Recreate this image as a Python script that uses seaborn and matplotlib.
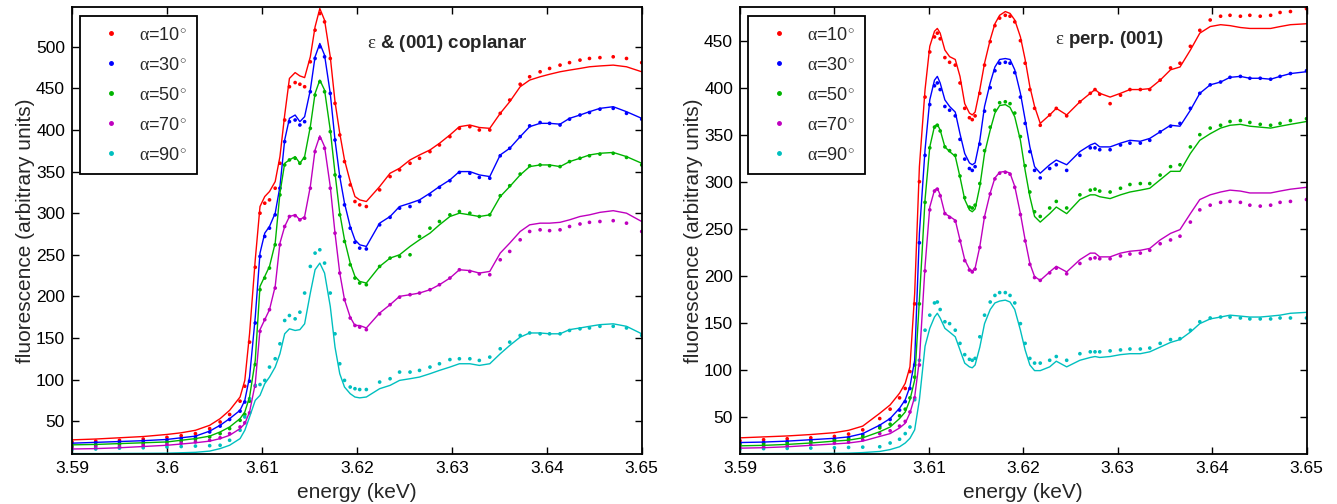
import numpy as np
import pandas as pd
import matplotlib
matplotlib.use('Agg')
import matplotlib.pyplot as plt
from matplotlib.lines import Line2D
import seaborn as sns

# ---------------- data ----------------
angles = ['10', '30', '50', '70', '90']
colors = ['#ff0000', '#0000ff', '#00b400', '#bf00bf', '#00bfbf']

xticks = [3.59, 3.60, 3.61, 3.62, 3.63, 3.64, 3.65]
xtick_labels = ['3.59', '3.6', '3.61', '3.62', '3.63', '3.64', '3.65']
yticks_coplanar = [50, 100, 150, 200, 250, 300, 350, 400, 450, 500]
yticks_perp = [50, 100, 150, 200, 250, 300, 350, 400, 450]

# ---- panel 1: epsilon & (001) coplanar ----
cop_E = [3.590, 3.5925, 3.595, 3.5975, 3.600, 3.6015, 3.603, 3.6045,
         3.6056, 3.6066, 3.6077, 3.6082, 3.6087, 3.6093, 3.6098, 3.6103, 3.6108, 3.6114,
         3.6119, 3.6124, 3.6129, 3.6135, 3.6140, 3.6145, 3.6151, 3.6156, 3.6161, 3.6166,
         3.6172, 3.6177, 3.6182, 3.6187, 3.6193, 3.6198, 3.6203,
         3.6210, 3.6224, 3.6235, 3.6245, 3.6256, 3.6266, 3.6277, 3.6287, 3.6298, 3.6308,
         3.6319, 3.6329, 3.6340, 3.6351, 3.6361, 3.6372, 3.6382, 3.6393, 3.6403, 3.6414,
         3.6424, 3.6435, 3.6445, 3.6456, 3.6470, 3.6484, 3.6500]

cop_fit_10 = [27.5, 28.5, 30, 31.5, 34, 36, 39, 45,
              53, 63, 79, 99, 155, 244, 308, 320, 326, 338, 368, 418, 462, 469, 465, 463, 488, 524, 546, 532, 488, 434, 396, 364, 338, 320, 316,
              314, 332, 348, 354, 364, 370, 376, 384, 394, 404, 406, 403, 402, 420, 434, 452, 460, 464, 467, 470, 472, 474, 476, 477, 478, 476, 470]
cop_dat_10 = [25, 26, 27, 28.5, 30.5, 32.5, 35, 41,
              49, 58, 74, 92, 145, 235, 300, 312, 316, 330, 360, 412, 452, 457, 455, 452, 482, 520, 540, 530, 486, 432, 394, 362, 334, 314, 310,
              308, 328, 344, 352, 360, 366, 374, 382, 392, 402, 404, 400, 400, 420, 436, 455, 464, 470, 474, 478, 481, 484, 486, 487, 488, 486, 481]
cop_fit_30 = [23.5, 24.5, 25.5, 26.5, 28, 30, 32, 38,
              45, 53, 63, 75, 103, 175, 252, 276, 284, 300, 332, 388, 414, 418, 410, 416, 448, 488, 504, 490, 444, 388, 344, 312, 284, 268, 262,
              260, 288, 296, 308, 312, 316, 324, 332, 340, 350, 350, 346, 344, 370, 378, 392, 404, 408, 408, 407, 414, 418, 422, 426, 428, 422, 414]
cop_dat_30 = [23, 24, 25, 26, 27.5, 29, 31, 37,
              44, 52, 62, 73, 98, 168, 248, 272, 282, 298, 330, 386, 410, 412, 406, 410, 446, 486, 500, 488, 444, 388, 344, 310, 282, 265, 258,
              257, 286, 295, 306, 308, 314, 322, 331, 339, 349, 348, 343, 342, 369, 378, 392, 405, 409, 408, 406, 413, 418, 421, 425, 426, 420, 413]
cop_fit_50 = [21.5, 22, 23, 24, 25, 27, 29, 32,
              37, 43, 53, 61, 79, 123, 212, 224, 236, 264, 324, 360, 364, 368, 360, 368, 404, 444, 460, 448, 400, 348, 300, 268, 240, 224, 218,
              216, 236, 246, 250, 260, 268, 276, 286, 296, 300, 298, 296, 298, 320, 332, 346, 356, 358, 358, 356, 362, 366, 370, 372, 373, 368, 360]
cop_dat_50 = [20, 21, 22, 23, 24.5, 26, 28, 31,
              35, 41, 51, 58, 74, 118, 208, 222, 234, 262, 322, 358, 364, 366, 360, 366, 402, 442, 458, 446, 398, 346, 298, 266, 238, 222, 216,
              214, 236, 246, 248, 250, 272, 282, 290, 298, 302, 300, 296, 298, 321, 333, 347, 357, 358, 357, 356, 362, 366, 369, 371, 372, 367, 358]
cop_fit_70 = [16.5, 17, 18, 19.5, 21, 22.5, 24, 26,
              29, 33, 41, 47, 61, 95, 160, 172, 184, 212, 264, 284, 296, 298, 292, 296, 332, 376, 393, 380, 332, 276, 228, 196, 175, 165, 165,
              162, 180, 190, 200, 202, 204, 208, 214, 222, 232, 231, 228, 230, 252, 264, 278, 286, 288, 288, 289, 292, 296, 298, 301, 303, 300, 290]
cop_dat_70 = [18, 19, 19.5, 21, 22, 23.5, 25, 27,
              30, 35, 43, 48, 60, 92, 158, 172, 184, 210, 262, 284, 296, 297, 292, 294, 330, 374, 390, 378, 330, 276, 228, 196, 174, 165, 163,
              160, 179, 190, 199, 202, 204, 208, 214, 222, 232, 230, 227, 226, 244, 254, 268, 278, 280, 279, 280, 284, 287, 289, 290, 291, 288, 278]
cop_fit_90 = [11, 11, 11.2, 11.3, 11.5, 12, 12.5, 14,
              17, 21, 29, 39, 55, 75, 81, 95, 103, 115, 131, 155, 161, 159, 160, 167, 204, 232, 240, 228, 188, 139, 107, 91, 83, 79, 78,
              79, 89, 93, 99, 101, 103, 107, 111, 115, 119, 119, 117, 119, 131, 141, 151, 156, 156, 155, 155, 160, 162, 164, 166, 167, 164, 155]
cop_dat_90 = [16, 16.5, 17.5, 18, 19, 19.5, 20, 20.5,
              21, 27, 39, 55, 77, 93, 94, 99, 115, 125, 143, 171, 177, 173, 181, 204, 236, 252, 256, 240, 204, 155, 119, 99, 91, 89, 88,
              88, 97, 101, 109, 109, 111, 115, 119, 124, 125, 125, 123, 127, 137, 145, 153, 156, 155, 155, 155, 159, 161, 162, 164, 164, 162, 153]

# ---- panel 2: epsilon perp. (001) ----
perp_E = [3.590, 3.5925, 3.595, 3.5975, 3.600, 3.6015, 3.603,
          3.6048, 3.6059, 3.6069, 3.6075, 3.6080, 3.6085, 3.6090, 3.6096, 3.6101, 3.6106, 3.6109,
          3.6112, 3.6117, 3.6122, 3.6128, 3.6133, 3.6138, 3.6143, 3.6146, 3.6149, 3.6154, 3.6159,
          3.6165, 3.6170, 3.6175, 3.6181, 3.6186, 3.6191, 3.6197, 3.6202, 3.6207, 3.6212,
          3.6218, 3.6228, 3.6235, 3.6246, 3.6260, 3.6271, 3.6276, 3.6281, 3.6292, 3.6303, 3.6313,
          3.6324, 3.6334, 3.6345, 3.6356, 3.6366, 3.6377, 3.6387, 3.6398, 3.6409, 3.6419, 3.6430,
          3.6440, 3.6451, 3.6462, 3.6472, 3.6483, 3.6500]

perp_fit_10 = [27.5, 28.5, 29.5, 31, 33, 35.5, 40,
               53.6, 62.5, 75, 85.5, 103, 181, 316, 398, 444, 460, 463, 458, 440, 433, 430, 412, 383, 373, 371, 374, 398, 426, 451, 468, 477, 481, 479, 472, 454, 430, 401, 380,
               362, 371, 378, 371, 385, 394, 398, 394, 390, 394, 398, 398, 399, 408, 419, 422, 440, 458, 465, 467, 466, 464, 463, 463, 463, 465, 467, 468]
perp_dat_10 = [24.5, 25.5, 26.5, 27.5, 29, 31.5, 36,
               48, 58, 70, 80, 98, 170, 300, 390, 438, 454, 458, 452, 432, 427, 424, 405, 378, 368, 366, 370, 394, 424, 449, 466, 474, 477, 476, 470, 450, 426, 398, 378,
               360, 371, 378, 370, 385, 394, 398, 393, 383, 392, 398, 398, 398, 408, 421, 426, 444, 461, 472, 476, 477, 476, 477, 476, 477, 480, 481, 484]
perp_fit_30 = [22.5, 23, 24, 25.5, 27, 28.5, 32,
               41, 48, 59, 68, 82, 110, 245, 334, 387, 408, 412, 405, 387, 380, 374, 351, 330, 320, 318, 320, 344, 380, 405, 422, 430, 431, 430, 419, 394, 366, 337, 316,
               309, 318, 323, 318, 332, 339, 341, 337, 337, 341, 344, 343, 346, 353, 360, 359, 376, 394, 403, 406, 411, 412, 410, 410, 409, 412, 415, 417]
perp_dat_30 = [22, 22.5, 23.5, 24.5, 26, 27.5, 31,
               40, 47, 57, 66, 80, 105, 235, 328, 382, 402, 405, 398, 380, 376, 370, 345, 324, 314, 312, 316, 340, 375, 400, 418, 426, 427, 426, 416, 390, 362, 332, 312,
               304, 314, 318, 312, 328, 336, 336, 334, 334, 339, 341, 341, 344, 353, 359, 362, 378, 394, 403, 406, 411, 412, 410, 410, 409, 412, 415, 418]
perp_fit_50 = [19, 19.5, 20.5, 22, 24, 25, 27.5,
               34, 39, 48, 55, 68, 89, 174, 281, 337, 359, 361, 355, 337, 332, 327, 305, 281, 270, 268, 271, 295, 330, 355, 373, 381, 382, 379, 369, 344, 312, 284, 263,
               257, 266, 273, 266, 281, 286, 286, 284, 282, 286, 289, 291, 293, 302, 311, 311, 330, 344, 351, 357, 360, 361, 359, 358, 357, 359, 361, 364]
perp_dat_50 = [20.5, 21, 22, 23.5, 25, 26, 29,
               38, 42, 51, 58, 70, 92, 170, 278, 336, 358, 360, 354, 337, 333, 328, 306, 283, 273, 272, 275, 298, 333, 358, 376, 384, 385, 383, 373, 348, 317, 289, 268,
               263, 272, 279, 272, 286, 291, 292, 290, 289, 293, 297, 298, 298, 307, 316, 318, 337, 350, 357, 360, 364, 365, 363, 361, 360, 362, 365, 367]
perp_fit_70 = [16.5, 17, 18, 19.5, 21, 22, 24,
               29, 32, 38, 43, 54, 71, 110, 210, 273, 291, 293, 286, 266, 263, 259, 238, 217, 207, 205, 208, 231, 263, 288, 304, 310, 311, 309, 295, 266, 238, 213, 199,
               195, 204, 210, 204, 217, 224, 224, 220, 220, 224, 226, 227, 229, 238, 245, 249, 266, 281, 286, 289, 291, 290, 288, 288, 288, 290, 292, 294]
perp_dat_70 = [17.5, 18, 19, 20.5, 22, 23, 25.5,
               32, 35, 40, 45, 55, 70, 105, 205, 270, 290, 292, 285, 266, 262, 258, 237, 216, 206, 204, 207, 230, 262, 287, 303, 309, 310, 308, 294, 265, 237, 212, 198,
               195, 203, 208, 202, 213, 218, 219, 218, 218, 221, 223, 224, 227, 234, 238, 242, 257, 270, 275, 278, 279, 278, 275, 274, 275, 278, 279, 281]
perp_fit_90 = [10.6, 10.7, 10.8, 10.9, 11, 11.2, 11.8,
               13, 15, 18, 22, 27, 36, 68, 125, 144, 156, 160, 155, 144, 140, 135, 121, 107, 103, 102, 105, 124, 149, 164, 171, 173, 174, 172, 164, 142, 121, 105, 99,
               99, 103, 109, 103, 110, 113, 114, 113, 114, 116, 117, 117, 119, 124, 129, 132, 140, 149, 154, 156, 158, 157, 156, 156, 157, 158, 160, 161]
perp_dat_90 = [15.5, 16, 16.3, 16.6, 17, 17.3, 17.6,
               18, 22, 26, 32, 39, 68, 110, 142, 158, 171, 172, 164, 151, 149, 142, 128, 116, 111, 110, 112, 135, 158, 172, 179, 182, 182, 179, 171, 149, 128, 112, 107,
               107, 110, 114, 110, 117, 119, 119, 119, 120, 121, 122, 122, 123, 128, 132, 133, 142, 151, 155, 156, 156, 155, 154, 154, 154, 155, 155, 155]

cop_fit = [cop_fit_10, cop_fit_30, cop_fit_50, cop_fit_70, cop_fit_90]
cop_dat = [cop_dat_10, cop_dat_30, cop_dat_50, cop_dat_70, cop_dat_90]
perp_fit = [perp_fit_10, perp_fit_30, perp_fit_50, perp_fit_70, perp_fit_90]
perp_dat = [perp_dat_10, perp_dat_30, perp_dat_50, perp_dat_70, perp_dat_90]


def build_frame(E, fits, dats):
    rows = []
    for a, f, d in zip(angles, fits, dats):
        for e, fv, dv in zip(E, f, d):
            rows.append({'energy': e, 'value': fv, 'angle': a, 'kind': 'fit'})
            rows.append({'energy': e, 'value': dv, 'angle': a, 'kind': 'data'})
    return pd.DataFrame(rows)


df_cop = build_frame(cop_E, cop_fit, cop_dat)
df_perp = build_frame(perp_E, perp_fit, perp_dat)

# ---------------- style ----------------
sns.set_theme(style='ticks')
plt.rcParams['font.family'] = ['Liberation Sans', 'DejaVu Sans']
plt.rcParams['mathtext.fontset'] = 'custom'
plt.rcParams['mathtext.rm'] = 'Liberation Serif'
plt.rcParams['mathtext.it'] = 'Liberation Serif:italic'
plt.rcParams['mathtext.bf'] = 'Liberation Serif:bold'
plt.rcParams['axes.linewidth'] = 1.3

palette = dict(zip(angles, colors))

fig = plt.figure(figsize=(13.37, 5.04), dpi=100)
ax1 = fig.add_axes([72 / 1337, 50 / 504, 569.7 / 1337, 446.7 / 504])
ax2 = fig.add_axes([740 / 1337, 50 / 504, 566.5 / 1337, 446.7 / 504])

panels = [
    (ax1, df_cop, yticks_coplanar, (10.5, 547.5), r'$\mathrm{\varepsilon}$ & (001) coplanar', (0.658, 0.918)),
    (ax2, df_perp, yticks_perp, (10.3, 485.5), r'$\mathrm{\varepsilon}$ perp. (001)', (0.653, 0.929)),
]

for ax, df, yt, ylim, title, tpos in panels:
    sns.lineplot(data=df[df['kind'] == 'fit'], x='energy', y='value', hue='angle',
                 palette=palette, estimator=None, sort=True, linewidth=1.0,
                 legend=False, ax=ax)
    sns.scatterplot(data=df[df['kind'] == 'data'], x='energy', y='value', hue='angle',
                    palette=palette, s=7, linewidth=0, legend=False, ax=ax)
    ax.set_xlim(3.59, 3.65)
    ax.set_ylim(*ylim)
    ax.set_xticks(xticks)
    ax.set_xticklabels(xtick_labels)
    ax.set_yticks(yt)
    ax.tick_params(direction='in', top=True, right=True, length=5, width=1,
                   labelsize=12.5, colors='black', pad=5)
    for sp in ax.spines.values():
        sp.set_visible(True)
        sp.set_color('black')
        sp.set_linewidth(1.3)
    ax.set_xlabel('energy (keV)', fontsize=15, labelpad=5)
    ax.set_ylabel('fluorescence (arbitrary units)', fontsize=15, labelpad=1)
    ax.text(tpos[0], tpos[1], title, transform=ax.transAxes, ha='center', va='center',
            fontsize=13.5, fontweight='bold')
    handles = [Line2D([], [], marker='.', linestyle='none', color=c, markersize=5)
               for c in colors]
    labels = [r'$\mathrm{\alpha}$=' + a + r'$^{\circ}$' for a in angles]
    leg = ax.legend(handles, labels, loc='upper left', bbox_to_anchor=(0.014, 0.981),
                    frameon=True, fancybox=False, edgecolor='black', framealpha=1,
                    fontsize=13, handlelength=2.2, handletextpad=0.45, borderpad=0.6,
                    labelspacing=0.72, borderaxespad=0)
    leg.get_frame().set_linewidth(1.3)

fig.savefig('out.png', dpi=100)
